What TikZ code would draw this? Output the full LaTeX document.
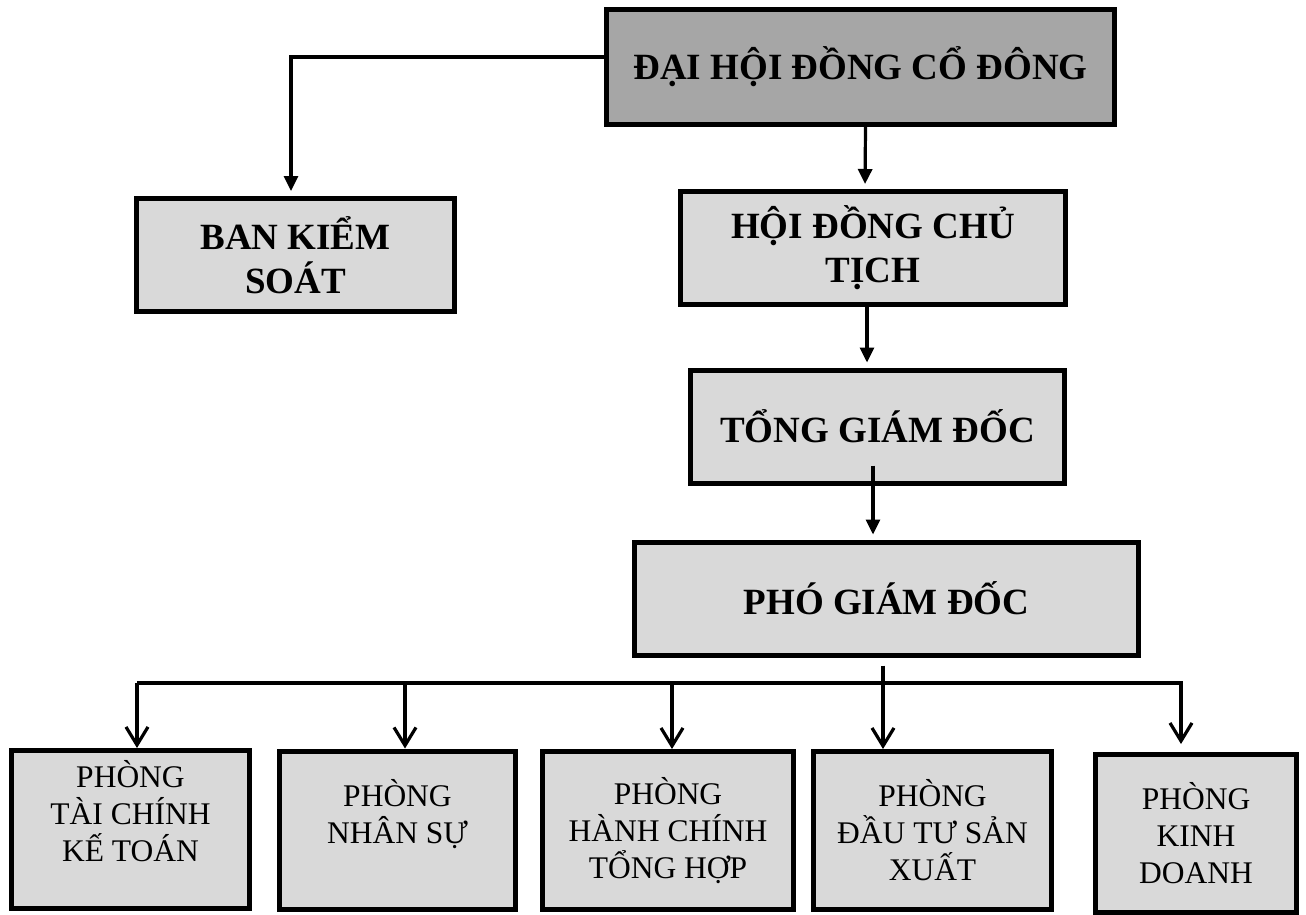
\documentclass[tikz,border=0pt]{standalone}
\usepackage{fontspec}
\setmainfont{Liberation Serif}
\usetikzlibrary{arrows.meta}
\definecolor{lightfill}{HTML}{D9D9D9}
\definecolor{darkfill}{HTML}{A6A6A6}

\begin{document}
\begin{tikzpicture}[
          x=0.5pt, y=-0.5pt,
          % 1. Khối cơ bản
          box/.style={
              rectangle,
              draw=black,
              line width=2.5pt,
              fill=lightfill,
              align=center,
              inner sep=2pt
          },
          % 2. Khối lãnh đạo (chữ đậm)
          lead/.style={box, font=\fontsize{18.5}{22}\selectfont\bfseries, minimum height=56.5pt},
          headbox/.style={lead, fill=darkfill, minimum height=57.5pt},
          % 3. Khối phòng ban
          dept/.style={box, font=\fontsize{15.75}{18.5}\selectfont, minimum height=79pt},
          % 4. Mũi tên
          link/.style={line width=1.6pt},
          arrow_fill/.style={link, -{Triangle[length=7.5pt, width=7pt]}, shorten >=2.5pt},
          arrow_open/.style={link, -{Straight Barb[length=9pt, width=11pt]}}
      ]
      \useasboundingbox (0,0) rectangle (1306,915);

      % === CẤP LÃNH ĐẠO ===

      % Đại hội đồng cổ đông
      \node[headbox, minimum width=254pt] (dhdcd) at (860.5,67) {ĐẠI HỘI ĐỒNG CỔ ĐÔNG};

      % Ban kiểm soát
      \node[lead, minimum width=159pt] (bks) at (295.5,255) {BAN KIỂM\\SOÁT};

      % Hội đồng chủ tịch
      \node[lead, minimum width=192.5pt] (hdct) at (873,248) {HỘI ĐỒNG CHỦ\\TỊCH};

      % Tổng giám đốc
      \node[lead, minimum width=187pt] (tgd) at (877.5,426.5) {TỔNG GIÁM ĐỐC};

      % Phó giám đốc
      \node[lead, minimum width=252pt] (pgd) at (886.5,598.5) {PHÓ GIÁM ĐỐC};

      % === CÁC PHÒNG BAN ===
      \node[dept, minimum width=119pt] (p1) at (130.5,829.5) {PHÒNG\\TÀI CHÍNH\\KẾ TOÁN\\\mbox{}};
      \node[dept, minimum width=118pt] (p2) at (397.5,830) {PHÒNG\\NHÂN SỰ\\\mbox{}};
      \node[dept, minimum width=125.5pt] (p3) at (668,830.5) {PHÒNG\\HÀNH CHÍNH\\TỔNG HỢP};
      \node[dept, minimum width=119pt] (p4) at (932.5,830.5) {PHÒNG\\ĐẦU TƯ SẢN\\XUẤT};
      \node[dept, minimum width=100.5pt] (p5) at (1196,833.5) {PHÒNG\\KINH\\DOANH};

      % === MŨI TÊN ===
      \draw[arrow_fill] ([yshift=5pt]dhdcd.west) -| ([xshift=-2.25pt]bks.north);
      \draw[arrow_fill] ([xshift=2.5pt]dhdcd.south) -- ([xshift=-4pt]hdct.north);
      \draw[arrow_fill] ([xshift=-3pt]hdct.south) -- ([xshift=-5.25pt]tgd.north);
      \draw[arrow_fill] ([xshift=-2.25pt, yshift=10pt]tgd.south) -- ([xshift=-6.75pt]pgd.north);

      % Đường nhánh xuống phòng ban
      \coordinate (bus) at (0,683);
      \draw[arrow_open] ([xshift=-1.75pt, yshift=-4pt]pgd.south) -- ([xshift=-1.75pt]pgd.south |- p4.north);
      \draw[arrow_open, shorten >=4pt] ([xshift=3.25pt]p1.north |- bus) -| ([xshift=-7.5pt]p5.north);
      \draw[arrow_open] ([xshift=3.25pt]p1.north |- bus) -- ([xshift=3.25pt]p1.north);
      \draw[arrow_open] ([xshift=3.75pt]p2.north |- bus) -- ([xshift=3.75pt]p2.north);
      \draw[arrow_open] ([xshift=2pt]p3.north |- bus) -- ([xshift=2pt]p3.north);

      \end{tikzpicture}
\end{document}
